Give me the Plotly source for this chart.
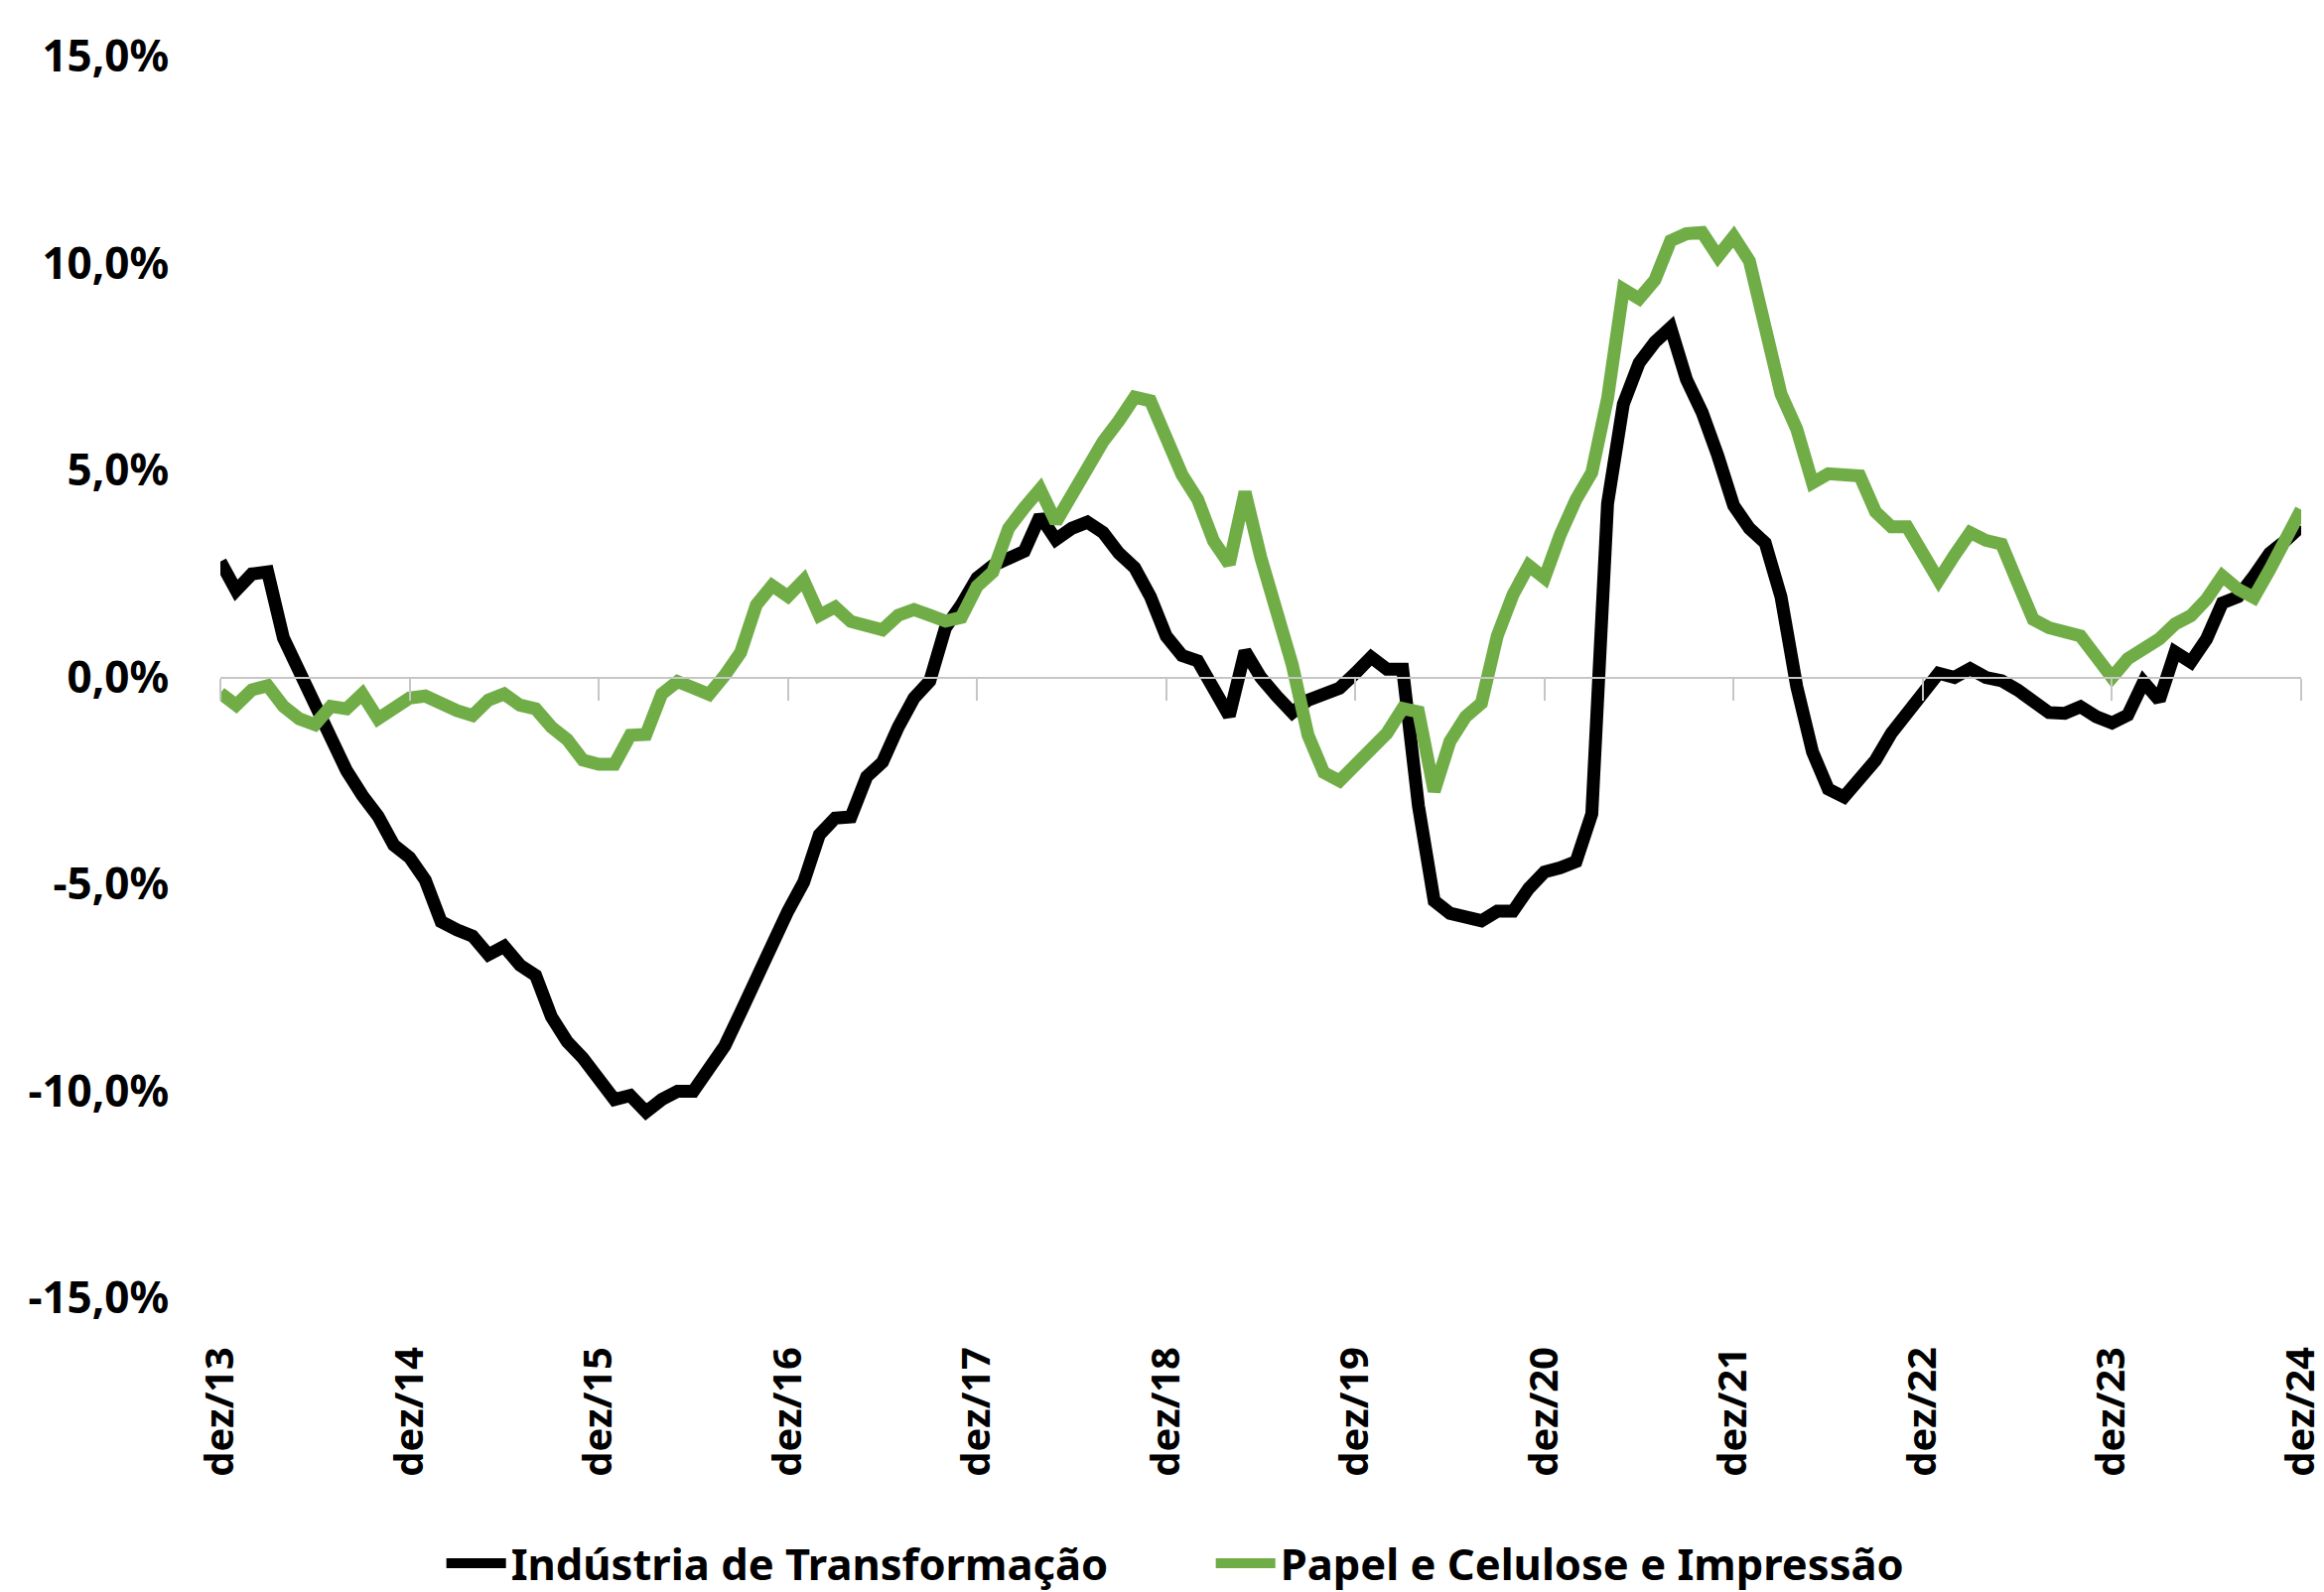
import plotly.graph_objects as go

# ---- data ----
month_names = ["jan", "fev", "mar", "abr", "mai", "jun", "jul", "ago", "set", "out", "nov", "dez"]
months = ["dez/13"] + [f"{m}/{y:02d}" for y in range(14, 25) for m in month_names]

industria = [
    2.8, 2.1, 2.5, 2.55, 0.95, 0.15, -0.65, -1.55, -2.25, -2.85,
    -3.35, -4.05, -4.35, -4.9, -5.9, -6.1, -6.25, -6.7, -6.5, -6.95,
    -7.2, -8.2, -8.8, -9.2, -9.7, -10.2, -10.1, -10.5, -10.2, -10.0,
    -10.0, -9.5, -8.9, -8.1, -7.25, -6.55, -5.65, -4.95, -3.8, -3.4,
    -3.37, -2.4, -2.05, -1.2, -0.5, -0.09, 1.2, 1.75, 2.4, 2.7,
    2.85, 3.05, 3.9, 3.33, 3.6, 3.75, 3.5, 3.0, 2.65, 1.95,
    1.0, 0.53, 0.4, -0.2, -0.93, 0.63, 0.0, -0.45, -0.85, -0.55,
    -0.4, -0.26, 0.1, 0.49, 0.2, 0.2, -3.1, -5.4, -5.7, -5.8,
    -5.88, -5.65, -5.65, -5.1, -4.7, -4.6, -4.45, -3.3, 4.2, 6.6,
    7.6, 8.1, 8.45, 7.2, 6.4, 5.35, 4.15, 3.6, 3.25, 1.95,
    -0.22, -1.8, -2.7, -2.89, -2.5, -2.0, -1.35, -0.85, -0.35, 0.1,
    0.0, 0.21, 0.0, -0.08, -0.3, -0.6, -0.85, -0.87, -0.71, -0.95,
    -1.1, -0.91, -0.11, -0.55, 0.61, 0.37, 0.93, 1.8, 1.95, 2.45,
    3.0, 3.3, 3.65,
]

papel = [
    -0.38, -0.67, -0.3, -0.2, -0.7, -1.0, -1.14, -0.7, -0.76, -0.4,
    -1.0, -0.75, -0.5, -0.45, -0.67, -0.8, -0.92, -0.55, -0.4, -0.67,
    -0.76, -1.2, -1.5, -2.0, -2.1, -2.1, -1.4, -1.38, -0.4, -0.1,
    -0.25, -0.41, 0.05, 0.6, 1.75, 2.22, 1.96, 2.35, 1.5, 1.7,
    1.35, 1.25, 1.15, 1.5, 1.64, 1.5, 1.36, 1.45, 2.2, 2.55,
    3.6, 4.1, 4.55, 3.75, 4.4, 5.1, 5.7, 6.2, 6.77, 6.68,
    5.7, 4.9, 4.3, 3.3, 2.74, 4.48, 2.9, 1.5, 0.3, -1.4,
    -2.3, -2.5, -2.1, -1.75, -1.35, -0.75, -0.83, -2.75, -1.55, -0.95,
    -0.62, 1.0, 2.0, 2.7, 2.4, 3.45, 4.3, 4.95, 6.74, 9.38,
    9.15, 9.6, 10.55, 10.72, 10.75, 10.17, 10.65, 10.06, 8.5, 6.85,
    6.0, 4.7, 4.92, 4.9, 4.87, 4.0, 3.64, 3.64, 3.0, 2.35,
    2.95, 3.5, 3.31, 3.22, 2.3, 1.4, 1.2, 1.1, 1.0, 0.5,
    0.0, 0.45, 0.7, 0.93, 1.29, 1.49, 1.89, 2.45, 2.13, 1.93,
    2.6, 3.33, 4.05,
]

y_ticks = [-15, -10, -5, 0, 5, 10, 15]
x_ticks = [m for m in months if m.startswith("dez")]

y_text = [f"{v:.1f}%".replace(".", ",") for v in y_ticks]

FONT = "Noto Sans"
BLACK = "#000000"
GREEN = "#70AD47"
GRID = "#C6C6C6"

fig = go.Figure()
fig.add_trace(go.Scatter(
    x=months, y=industria, name="Indústria de Transformação",
    mode="lines", line=dict(color=BLACK, width=13), xaxis="x", yaxis="y",
))
fig.add_trace(go.Scatter(
    x=months, y=papel, name="Papel e Celulose e Impressão",
    mode="lines", line=dict(color=GREEN, width=13), xaxis="x2", yaxis="y",
))

common_x = dict(type="category", categoryarray=months, categoryorder="array",
                range=[0, len(months) - 1], showgrid=False, zeroline=False,
                automargin=False)

fig.update_layout(
    width=2341, height=1604,
    paper_bgcolor="white", plot_bgcolor="white",
    margin=dict(l=222, r=23, t=57, b=296, autoexpand=False),
    showlegend=True,
    legend=dict(orientation="h", xref="container", yref="container",
                x=0.521, xanchor="center", y=0.018, yanchor="middle",
                font=dict(family=FONT, size=43.5, color="#000000", weight="bold"),
                itemwidth=60, entrywidth=700, entrywidthmode="pixels",
                tracegroupgap=0),
    xaxis=dict(**common_x, anchor="y", showline=False,
               tickmode="array", tickvals=x_ticks, ticktext=x_ticks,
               tickangle=-90, ticks="outside", ticklen=32,
               tickcolor="rgba(0,0,0,0)",
               tickfont=dict(family=FONT, size=40, color="#000000", weight="bold")),
    xaxis2=dict(**common_x, overlaying="x", anchor="free", position=0.5,
                side="bottom", showline=True, linecolor=GRID, linewidth=2,
                tickmode="array", tickvals=x_ticks, ticks="outside",
                ticklen=22, tickwidth=2, tickcolor=GRID, showticklabels=False),
    yaxis=dict(range=[-15, 15], tickmode="array", tickvals=y_ticks, ticktext=y_text,
               showgrid=False, zeroline=False, showline=False, automargin=False,
               ticks="outside", ticklen=42, tickcolor="rgba(0,0,0,0)",
               tickfont=dict(family=FONT, size=44, color="#000000", weight="bold")),
)

fig.write_html(
    "out.html",
    config={"displayModeBar": False},
    post_script="document.body.style.margin='0';document.body.style.overflow='hidden';",
)
